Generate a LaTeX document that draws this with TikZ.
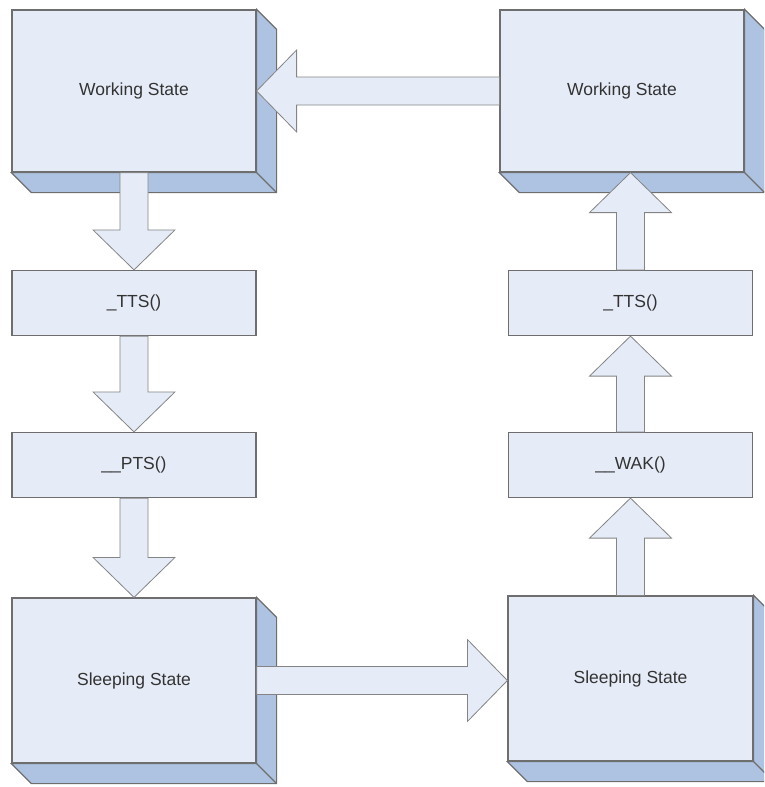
\documentclass[tikz,border=0pt]{standalone}
\usepackage{fontspec}
\setmainfont{Liberation Sans}
\usepackage{tikz}
\usetikzlibrary{calc}
\definecolor{StateFace}{HTML}{E6ECF7}
\definecolor{StateSide}{HTML}{AEC3E2}
\definecolor{StateEdge}{HTML}{6E6E6E}
\definecolor{StateText}{HTML}{333333}

% block arrow from one anchor to another
\newcommand{\fatarrow}[2]{%
  \path (#1) coordinate (fa-s) (#2) coordinate (fa-t)
    ($(fa-t)!40pt!(fa-s)$) coordinate (fa-h);
  \draw[flowarrow] ($(fa-s)!14pt!90:(fa-t)$) -- ($(fa-h)!14pt!-90:(fa-s)$)
    -- ($(fa-h)!41pt!-90:(fa-s)$) -- (fa-t) -- ($(fa-h)!41pt!90:(fa-s)$)
    -- ($(fa-h)!14pt!90:(fa-s)$) -- ($(fa-s)!14pt!-90:(fa-t)$) -- cycle;}
% right and bottom faces of a state box
\newcommand{\sidefaces}[1]{%
  \filldraw[sideface] (#1.north east) -- ++(20,20) -- ($(#1.south east)+(20,20)$)
    -- ($(#1.south west)+(20,20)$) -- (#1.south west) -- (#1.south east) -- cycle;
  \draw[sideface] (#1.south east) -- ++(20,20);}

\begin{document}
\begin{tikzpicture}[x=1pt,y=-1pt,
  statebox/.style={draw=StateEdge,line width=1.2pt,fill=StateFace,text=StateText,
    minimum width=244pt,minimum height=162pt,inner sep=0pt,
    font=\fontsize{17.5}{21}\selectfont},
  callbox/.style={statebox,minimum height=65pt},
  sideface/.style={draw=StateEdge,line width=1.2pt,fill=StateSide},
  flowarrow/.style={draw=StateEdge!85,line width=0.8pt,fill=StateFace}]
  \clip (0,0) rectangle (764,787);
  \node[statebox] (wsL) at (134,91) {Working State};
  \node[statebox] (wsR) at (622,91) {Working State};
  \node[callbox] (ttsL) at (134,303) {\_TTS()};
  \node[callbox] (ptsL) at (134,465) {\_\_PTS()};
  \node[callbox] (ttsR) at (630.5,303) {\_TTS()};
  \node[callbox] (wakR) at (630.5,465) {\_\_WAK()};
  \node[statebox,minimum height=165pt] (slL) at (134,680.5) {Sleeping State};
  \node[statebox,minimum height=165pt,minimum width=245pt] (slR) at (630.5,678.5) {Sleeping State};
  \foreach \b in {wsL,wsR,slL,slR} {\sidefaces{\b}}

  \fatarrow{wsL.south}{ttsL.north}
  \fatarrow{ttsL.south}{ptsL.north}
  \fatarrow{ptsL.south}{slL.north}
  \fatarrow{slL.east}{slL.east -| slR.west}
  \fatarrow{slR.north}{wakR.south}
  \fatarrow{wakR.north}{ttsR.south}
  \fatarrow{ttsR.north}{ttsR.north |- wsR.south}
  \fatarrow{wsR.west}{wsL.east}
\end{tikzpicture}
\end{document}
